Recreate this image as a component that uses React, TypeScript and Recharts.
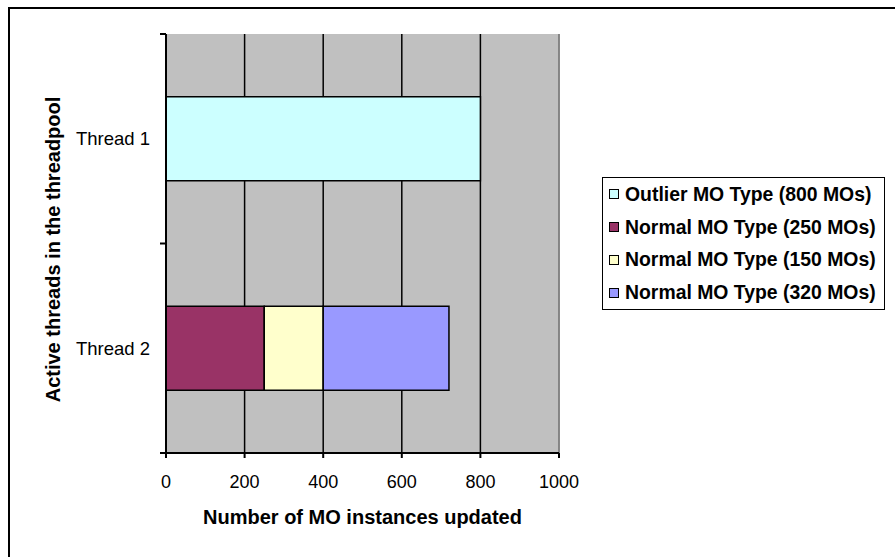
import React from 'react';
import { BarChart, Bar, XAxis, YAxis, CartesianGrid, ReferenceLine, Legend, Label } from 'recharts';

// Threads shown on the category axis
const threads = ['Thread 1', 'Thread 2'];

// MO instances updated by each thread, per MO type
const outlierMOs = [800, null];
const normal250MOs = [null, 250];
const normal150MOs = [null, 150];
const normal320MOs = [null, 320];

const xTicks = [0, 200, 400, 600, 800, 1000];

const seriesKeys = ['outlier', 'normal250', 'normal150', 'normal320'];
const seriesNames = [
  'Outlier MO Type (800 MOs)',
  'Normal MO Type (250 MOs)',
  'Normal MO Type (150 MOs)',
  'Normal MO Type (320 MOs)',
];
const seriesColors = ['#CCFFFF', '#993366', '#FFFFCC', '#9999FF'];

const data = threads.map((thread, i) => ({
  thread,
  outlier: outlierMOs[i],
  normal250: normal250MOs[i],
  normal150: normal150MOs[i],
  normal320: normal320MOs[i],
}));

const FONT = '"Liberation Sans", Arial, sans-serif';

// Category tick: label at the band centre, short tick marks on the band edges
const ThreadTick = (props: any) => {
  const { x, y, payload, index } = props;
  const half = payload && payload.offset ? payload.offset : 0;
  const lx1 = x + 10;
  const lx2 = x + 16;
  return (
    <g>
      <text x={x} y={y} dy="0.35em" textAnchor="end" fontFamily={FONT} fontSize={18.5} fill="#000">
        {payload.value}
      </text>
      {index === 0 && <line x1={lx1} x2={lx2} y1={y - half} y2={y - half} stroke="#000" strokeWidth={2} />}
      <line x1={lx1} x2={lx2} y1={y + half} y2={y + half} stroke="#000" strokeWidth={2} />
    </g>
  );
};

// Boxed legend listing the series in stacking order
const LegendBox = () => (
  <div
    style={{
      width: 283,
      height: 133,
      boxSizing: 'border-box',
      border: '1px solid #000',
      background: '#fff',
      display: 'flex',
      flexDirection: 'column',
    }}
  >
    {seriesNames.map((name, i) => (
      <div
        key={name}
        style={{
          height: 33.25,
          display: 'flex',
          alignItems: 'center',
          paddingLeft: 6,
          fontFamily: FONT,
          fontWeight: 'bold',
          fontSize: 19.4,
          color: '#000',
          whiteSpace: 'nowrap',
        }}
      >
        <span
          style={{
            display: 'inline-block',
            width: 10,
            height: 10,
            boxSizing: 'border-box',
            border: '1px solid #000',
            background: seriesColors[i],
            marginRight: 6,
          }}
        />
        {name}
      </div>
    ))}
  </div>
);

export default function App() {
  return (
    <div style={{ position: 'absolute', left: 0, top: 0, width: 895, height: 557, background: '#fff', overflow: 'hidden' }}>
      <div
        style={{
          position: 'absolute',
          left: 8,
          top: 7,
          width: 1000,
          height: 1000,
          borderLeft: '2px solid #000',
          borderTop: '2px solid #000',
        }}
      />
      <div style={{ position: 'absolute', left: 0, top: 0 }}>
        <BarChart
          width={895}
          height={557}
          data={data}
          layout="vertical"
          margin={{ top: 34, right: 336, bottom: 0, left: 0 }}
          barCategoryGap="30%"
        >
          <CartesianGrid horizontal={false} stroke="#000" strokeWidth={1.5} fill="#C0C0C0" fillOpacity={1} />
          <XAxis
            type="number"
            domain={[0, 1000]}
            ticks={xTicks}
            interval={0}
            height={104}
            tickSize={5}
            tickMargin={17}
            tickLine={{ stroke: '#000', strokeWidth: 2 }}
            axisLine={{ stroke: '#000', strokeWidth: 2 }}
            tick={{ fontFamily: FONT, fontSize: 18, fill: '#000' }}
          >
            <Label
              content={(p: any) => {
                const vb = p.viewBox;
                return (
                  <text
                    x={vb.x + vb.width / 2}
                    y={vb.y + 71}
                    textAnchor="middle"
                    fontFamily={FONT}
                    fontWeight="bold"
                    fontSize={20}
                    fill="#000"
                  >
                    Number of MO instances updated
                  </text>
                );
              }}
            />
          </XAxis>
          <XAxis
            xAxisId="top"
            orientation="top"
            type="number"
            domain={[0, 1000]}
            height={0}
            tick={false}
            tickLine={false}
            axisLine={{ stroke: '#999', strokeWidth: 1.5 }}
          />
          <YAxis
            type="category"
            dataKey="thread"
            width={166}
            tickSize={0}
            tickMargin={16}
            tickLine={false}
            axisLine={{ stroke: '#000', strokeWidth: 2 }}
            tick={<ThreadTick />}
          >
            <Label
              content={(p: any) => {
                const vb = p.viewBox;
                const cx = vb.x + 53;
                const cy = vb.y + vb.height / 2 + 6;
                return (
                  <text
                    x={cx}
                    y={cy}
                    transform={`rotate(-90 ${cx} ${cy})`}
                    textAnchor="middle"
                    dominantBaseline="central"
                    fontFamily={FONT}
                    fontWeight="bold"
                    fontSize={20}
                    fill="#000"
                  >
                    Active threads in the threadpool
                  </text>
                );
              }}
            />
          </YAxis>
          <ReferenceLine x={1000} stroke="#A0A0A0" strokeWidth={1.5} />
          {seriesKeys.map((key, i) => (
            <Bar
              key={key}
              dataKey={key}
              name={seriesNames[i]}
              stackId="mo"
              fill={seriesColors[i]}
              stroke="#000"
              strokeWidth={1.5}
              isAnimationActive={false}
            />
          ))}
          <Legend
            layout="vertical"
            align="center"
            verticalAlign="middle"
            content={<LegendBox />}
            wrapperStyle={{ left: 602, top: 177, width: 283, height: 133 }}
          />
        </BarChart>
      </div>
    </div>
  );
}
